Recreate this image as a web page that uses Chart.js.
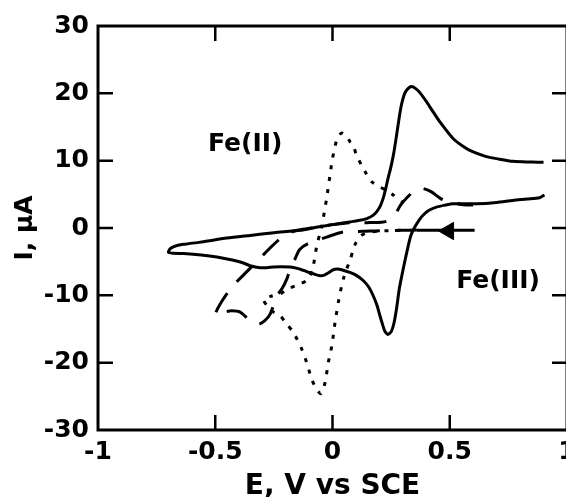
<!DOCTYPE html>
<html>
<head>
<meta charset="utf-8">
<script src="https://cdn.jsdelivr.net/npm/chart.js@4.4.1/dist/chart.umd.min.js"></script>
<style>
html, body { margin: 0; padding: 0; background: #fff; overflow: hidden; }
</style>
</head>
<body>
<canvas id="cv" width="578" height="497"></canvas>
<script>
// potentials (V vs SCE) and currents (uA)
const solidE = [0.9, 0.85, 0.77, 0.7, 0.656, 0.6, 0.571, 0.514, 0.457, 0.43, 0.4, 0.375, 0.355, 0.337, 0.322, 0.308, 0.294, 0.284, 0.272, 0.262, 0.25, 0.237, 0.226, 0.216, 0.203, 0.188, 0.17, 0.146, 0.11, 0.074, 0.0, -0.07, -0.138, -0.25, -0.351, -0.45, -0.564, -0.63, -0.663, -0.69, -0.7, -0.68, -0.635, -0.56, -0.493, -0.422, -0.38, -0.351, -0.309, -0.28, -0.252, -0.22, -0.181, -0.15, -0.124, -0.1, -0.082, -0.053, -0.035, -0.015, 0.003, 0.02, 0.039, 0.074, 0.1, 0.131, 0.155, 0.174, 0.19, 0.202, 0.215, 0.223, 0.235, 0.245, 0.252, 0.263, 0.273, 0.285, 0.295, 0.308, 0.33, 0.341, 0.351, 0.37, 0.386, 0.41, 0.443, 0.48, 0.514, 0.614, 0.7, 0.769, 0.83, 0.883, 0.904];
const solidI = [9.75, 9.8, 9.9, 10.3, 10.6, 11.3, 11.8, 13.3, 15.8, 17.2, 18.8, 20.0, 20.7, 21.0, 20.7, 20.0, 18.3, 16.3, 13.5, 11.3, 9.2, 7.4, 5.7, 4.4, 3.2, 2.4, 1.8, 1.4, 1.1, 0.9, 0.5, 0.1, -0.35, -0.7, -1.1, -1.5, -2.1, -2.4, -2.6, -3.0, -3.6, -3.75, -3.8, -4.0, -4.3, -4.8, -5.2, -5.6, -5.9, -5.9, -5.8, -5.75, -5.8, -6.0, -6.3, -6.6, -6.8, -7.1, -7.0, -6.6, -6.2, -6.1, -6.2, -6.6, -7.0, -7.8, -8.8, -10.1, -11.5, -13.0, -14.5, -15.3, -15.8, -15.6, -15.3, -14.0, -12.0, -9.0, -7.2, -5.0, -1.6, -0.5, 0.15, 1.2, 1.9, 2.6, 3.1, 3.4, 3.6, 3.6, 3.8, 4.1, 4.3, 4.5, 4.9];

const dotE = [0.29, 0.2, 0.15, 0.124, 0.1, 0.089, 0.075, 0.06, 0.046, 0.039, 0.025, 0.011, -0.003, -0.018, -0.032, -0.049, -0.067, -0.088, -0.11, -0.131, -0.167, -0.202, -0.223, -0.252, -0.28, -0.294, -0.26, -0.223, -0.195, -0.138, -0.103, -0.082, -0.067, -0.055, -0.045, -0.025, -0.01, 0.0, 0.02, 0.039, 0.06, 0.075, 0.089, 0.1, 0.124, 0.145, 0.166, 0.202, 0.235, 0.259, 0.3];
const dotI = [-0.35, -0.45, -0.7, -1.1, -2.2, -3.1, -4.8, -6.1, -7.6, -8.6, -11, -14, -17.5, -20, -23, -24.6, -24, -22.5, -20, -18, -15.5, -14, -13, -12.5, -11.5, -10.6, -10.1, -9.8, -9.1, -8.3, -7.6, -5.6, -2.6, -1, 0.4, 4.4, 8, 10.3, 13.3, 14.1, 13.6, 12.8, 12.3, 11, 9.3, 8, 6.9, 6.1, 5.5, 4.9, 3.8];

const dashE = [0.36, 0.29, 0.2, 0.131, 0.046, -0.025, -0.103, -0.14, -0.16, -0.18, -0.195, -0.215, -0.237, -0.266, -0.29, -0.316, -0.35, -0.394, -0.43, -0.465, -0.5, -0.479, -0.43, -0.36, -0.29, -0.223, -0.167, -0.11, 0.0, 0.074, 0.16, 0.23, 0.27, 0.29, 0.32, 0.351, 0.38, 0.42, 0.46, 0.49, 0.55, 0.6];
const dashI = [-0.3, -0.35, -0.4, -0.5, -0.6, -1.35, -2.3, -3.2, -4.6, -6, -7.6, -9, -10.1, -12.8, -13.8, -14.3, -13.8, -12.5, -12.3, -12.5, -12.9, -11.3, -8.8, -6.3, -3.8, -1.6, -0.5, -0.1, 0.5, 0.8, 0.8, 1.0, 2.2, 3.4, 4.6, 5.6, 5.9, 5.4, 4.4, 3.9, 3.5, 3.4];

// scan direction arrow
const arrowE = [0.36, 0.606];
const arrowI = [-0.35, -0.35];
const headE = [0.495];
const headI = [-0.45];

const xTicks = [-1, -0.5, 0, 0.5, 1];
const yTicks = [-30, -20, -10, 0, 10, 20, 30];

const notes = ['Fe(II)', 'Fe(III)'];
const noteE = [-0.372, 0.706];
const noteI = [12.4, -7.9];

const FONT = 'DejaVu Sans';

function pts(xs, ys) {
    return xs.map((x, i) => ({ x: x, y: ys[i] }));
}

function line(xs, ys, dash, width) {
    return {
        data: pts(xs, ys),
        showLine: true,
        borderColor: '#000',
        borderWidth: width,
        borderDash: dash,
        pointRadius: 0,
        tension: 0.25,
        fill: false
    };
}

// box round the plot with ticks pointing in, plus the Fe labels
const frame = {
    id: 'frame',
    afterDatasetsDraw(chart) {
        const ctx = chart.ctx;
        const a = chart.chartArea;
        const sx = chart.scales.x, sy = chart.scales.y;
        const len = 15;
        ctx.save();
        ctx.strokeStyle = '#000';
        ctx.lineWidth = 3;
        ctx.strokeRect(a.left, a.top, a.right - a.left, a.bottom - a.top);
        ctx.lineWidth = 2.5;
        ctx.beginPath();
        xTicks.slice(1, -1).forEach(v => {
            const px = sx.getPixelForValue(v);
            ctx.moveTo(px, a.bottom); ctx.lineTo(px, a.bottom - len);
            ctx.moveTo(px, a.top); ctx.lineTo(px, a.top + len);
        });
        yTicks.slice(1, -1).forEach(v => {
            const py = sy.getPixelForValue(v);
            ctx.moveTo(a.left, py); ctx.lineTo(a.left + len, py);
            ctx.moveTo(a.right, py); ctx.lineTo(a.right - len, py);
        });
        ctx.stroke();

        ctx.fillStyle = '#000';
        ctx.font = 'bold 25px "' + FONT + '"';
        ctx.textAlign = 'center';
        ctx.textBaseline = 'middle';
        notes.forEach((t, i) => {
            ctx.fillText(t, sx.getPixelForValue(noteE[i]), sy.getPixelForValue(noteI[i]));
        });
        ctx.restore();
    }
};

new Chart(document.getElementById('cv'), {
    type: 'scatter',
    data: {
        datasets: [
            line(solidE, solidI, [], 3),
            line(dotE, dotI, [4, 8], 3),
            line(dashE, dashI, [22, 15], 3),
            line(arrowE, arrowI, [], 3),
            {
                data: pts(headE, headI),
                pointStyle: 'triangle',
                rotation: 270,
                pointRadius: 10,
                backgroundColor: '#000',
                borderColor: '#000',
                borderWidth: 1
            }
        ]
    },
    plugins: [frame],
    options: {
        responsive: false,
        animation: false,
        devicePixelRatio: 1,
        layout: { padding: { top: 26, right: 9, bottom: 0, left: 0 } },
        plugins: { legend: { display: false }, tooltip: { enabled: false } },
        scales: {
            x: {
                type: 'linear',
                min: -1, max: 1,
                afterBuildTicks: s => { s.ticks = xTicks.map(v => ({ value: v })); },
                afterFit: s => { s.height = 67; s.paddingLeft = 0; s.paddingRight = 0; },
                grid: { display: false, drawTicks: false },
                border: { display: false },
                ticks: { color: '#000', padding: 7, callback: v => String(v),
                         font: { family: FONT, size: 25, weight: 'bold' } },
                title: { display: true, text: 'E, V vs SCE', color: '#000', padding: 0,
                         font: { family: FONT, size: 28, weight: 'bold', lineHeight: 0.75 } }
            },
            y: {
                type: 'linear',
                min: -30, max: 30,
                afterBuildTicks: s => { s.ticks = yTicks.map(v => ({ value: v })); },
                afterFit: s => { s.width = 98; s.paddingTop = 0; s.paddingBottom = 0; },
                grid: { display: false, drawTicks: false },
                border: { display: false },
                ticks: { color: '#000', padding: 9, callback: v => String(v),
                         font: { family: FONT, size: 25, weight: 'bold' } },
                title: { display: true, text: 'I, μA', color: '#000', padding: 0,
                         font: { family: FONT, size: 25, weight: 'bold', lineHeight: 2 } }
            }
        }
    }
});
</script>
</body>
</html>
